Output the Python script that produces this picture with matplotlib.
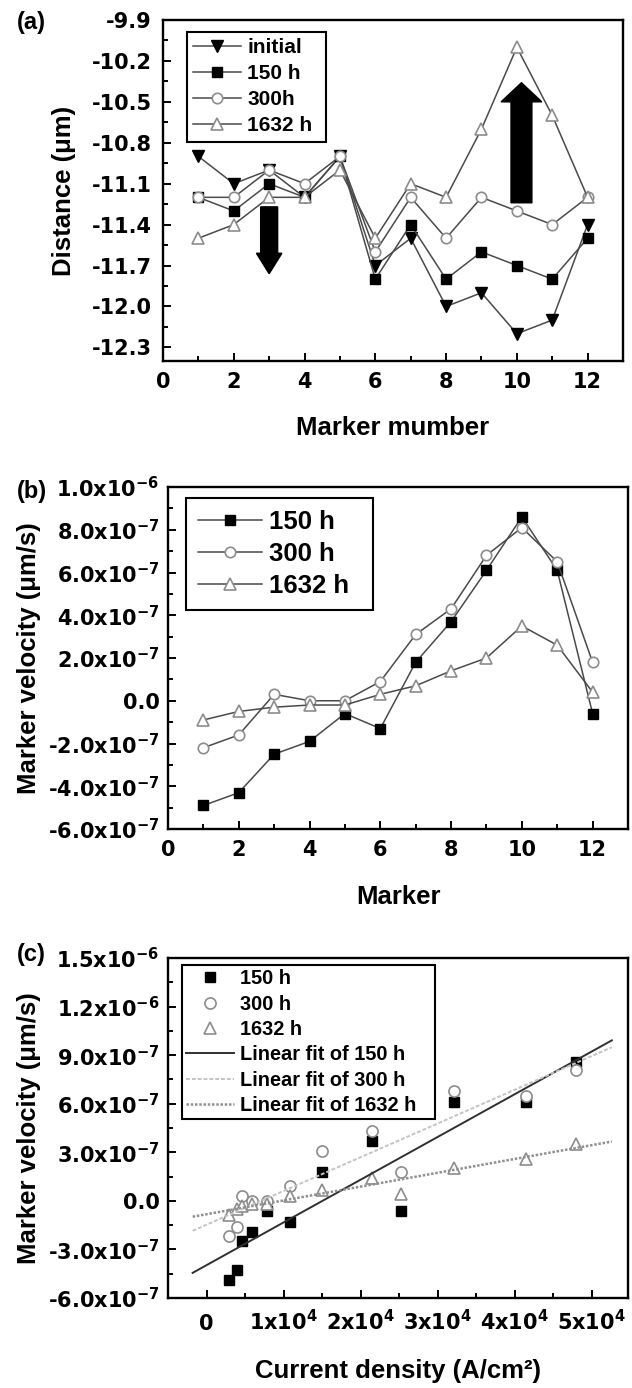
import numpy as np
import matplotlib
matplotlib.use('Agg')
import matplotlib.pyplot as plt
from matplotlib.ticker import MultipleLocator, FixedLocator, FuncFormatter

plt.rcParams['font.family'] = 'DejaVu Sans'
plt.rcParams['font.weight'] = 'bold'
plt.rcParams['axes.unicode_minus'] = False
plt.rcParams['mathtext.default'] = 'bf'

# ---- data ----
markers = np.arange(1, 13)

# (a) marker distance (um)
dist_initial = [-10.9, -11.1, -11.0, -11.2, -10.9, -11.7, -11.5, -12.0, -11.9, -12.2, -12.1, -11.4]
dist_150 = [-11.2, -11.3, -11.1, -11.2, -10.9, -11.8, -11.4, -11.8, -11.6, -11.7, -11.8, -11.5]
dist_300 = [-11.2, -11.2, -11.0, -11.1, -10.9, -11.6, -11.2, -11.5, -11.2, -11.3, -11.4, -11.2]
dist_1632 = [-11.5, -11.4, -11.2, -11.2, -11.0, -11.5, -11.1, -11.2, -10.7, -10.1, -10.6, -11.2]

# (b) marker velocity, in units of 1e-7 um/s
vel_150 = [-4.9, -4.3, -2.5, -1.9, -0.6, -1.3, 1.8, 3.7, 6.1, 8.6, 6.1, -0.6]
vel_300 = [-2.2, -1.6, 0.3, 0.0, 0.0, 0.9, 3.1, 4.3, 6.8, 8.1, 6.5, 1.8]
vel_1632 = [-0.9, -0.5, -0.3, -0.2, -0.2, 0.3, 0.7, 1.4, 2.0, 3.5, 2.6, 0.4]
vel_scale = 1e-7

# (c) current density at each marker (A/cm2)
current = [2900, 3900, 4600, 5900, 7800, 10800, 15000, 21500, 32100, 47900, 41500, 25300]

LINE = '#4a4a4a'
OPEN = '#8c8c8c'
label_font = {'family': 'Liberation Sans', 'weight': 'bold', 'size': 18.5}

W, H = 632, 1388
fig = plt.figure(figsize=(W / 100, H / 100), dpi=100)


def px_axes(left, top, right, bottom):
    return fig.add_axes([left / W, 1 - bottom / H, (right - left) / W, (bottom - top) / H])


def style(ax):
    for s in ax.spines.values():
        s.set_linewidth(1.7)
    ax.tick_params(which='both', direction='in', top=False, right=False,
                   width=1.4, labelsize=15, pad=8)
    ax.tick_params(which='major', length=6)
    ax.tick_params(which='minor', length=3.5)


def sci(v, pos):
    if abs(v) < 1e-15:
        return '0.0'
    e = int(np.floor(np.log10(abs(v)) + 1e-9))
    return f'{v / 10**e:.1f}x10$^{{{e}}}$'


def legend(ax, x0, top, width, size, **kw):
    leg = ax.legend(loc='upper left', bbox_to_anchor=(x0, top, width, 0), mode='expand',
                    borderaxespad=0,
                    prop={'family': 'Liberation Sans', 'weight': 'bold', 'size': size},
                    frameon=True, fancybox=False, edgecolor='black', framealpha=1,
                    numpoints=1, **kw)
    leg.get_frame().set_linewidth(1.5)
    return leg


# ---------- (a) ----------
ax = px_axes(163, 20, 623, 361)
style(ax)
ax.plot(markers, dist_initial, '-v', color=LINE, lw=1.1, mfc='black', mec='black', ms=8, label='initial')
ax.plot(markers, dist_150, '-s', color=LINE, lw=1.1, mfc='black', mec='black', ms=6.5, label='150 h')
ax.plot(markers, dist_300, '-o', color=LINE, lw=1.1, mfc='white', mec=OPEN, mew=1.2, ms=7.5, label='300h')
ax.plot(markers, dist_1632, '-^', color=LINE, lw=1.1, mfc='white', mec=OPEN, mew=1.2, ms=8, label='1632 h')
ax.arrow(3, -11.27, 0, -0.49, width=0.48, head_width=0.72, head_length=0.15,
         length_includes_head=True, color='black', zorder=5)
ax.arrow(10.13, -11.24, 0, 0.88, width=0.59, head_width=1.15, head_length=0.14,
         length_includes_head=True, color='black', zorder=5)
ax.set_xlim(0, 13)
ax.set_ylim(-12.4, -9.9)
ax.xaxis.set_major_locator(MultipleLocator(2))
ax.xaxis.set_minor_locator(MultipleLocator(1))
ax.yaxis.set_major_locator(FixedLocator(np.round(np.arange(-12.3, -9.85, 0.3), 1)))
ax.yaxis.set_minor_locator(FixedLocator(np.round(np.arange(-12.45, -9.85, 0.15), 2)))
ax.yaxis.set_major_formatter(FuncFormatter(lambda v, p: f'{v:.1f}'))
ax.set_xlabel('Marker mumber', fontdict=label_font)
ax.set_ylabel('Distance (\u03bcm)', fontdict=label_font)
ax.xaxis.set_label_coords(0.5, -0.16)
ax.yaxis.set_label_coords(-0.19, 0.5)
legend(ax, 0.052, 0.965, 0.302, 15, handlelength=2.3, handletextpad=0.3,
       labelspacing=0.34, borderpad=0.3)

# ---------- (b) ----------
ax = px_axes(168, 487, 628, 829)
style(ax)
ax.plot(markers, np.array(vel_150) * vel_scale, '-s', color=LINE, lw=1.1, mfc='black', mec='black', ms=6.5, label='150 h')
ax.plot(markers, np.array(vel_300) * vel_scale, '-o', color=LINE, lw=1.1, mfc='white', mec=OPEN, mew=1.2, ms=7.5, label='300 h')
ax.plot(markers, np.array(vel_1632) * vel_scale, '-^', color=LINE, lw=1.1, mfc='white', mec=OPEN, mew=1.2, ms=8, label='1632 h')
ax.set_xlim(0, 13)
ax.set_ylim(-6e-7, 1e-6)
ax.xaxis.set_major_locator(MultipleLocator(2))
ax.xaxis.set_minor_locator(MultipleLocator(1))
ax.yaxis.set_major_locator(FixedLocator(np.arange(-6, 11, 2) * 1e-7))
ax.yaxis.set_minor_locator(FixedLocator(np.arange(-6, 11, 1) * 1e-7))
ax.yaxis.set_major_formatter(FuncFormatter(sci))
ax.tick_params(axis='y', pad=6)
ax.set_xlabel('Marker', fontdict=label_font)
ax.set_ylabel('Marker velocity (\u03bcm/s)', fontdict=label_font)
ax.xaxis.set_label_coords(0.5, -0.165)
ax.yaxis.set_label_coords(-0.275, 0.5)
legend(ax, 0.039, 0.968, 0.4065, 18.5, handlelength=2.5, handletextpad=0.3,
       labelspacing=0.32, borderpad=0.45)

# ---------- (c) ----------
ax = px_axes(168, 958, 628, 1298)
style(ax)
ax.plot(current, np.array(vel_150) * vel_scale, 's', ls='none', mfc='black', mec='black', ms=7, label='150 h')
ax.plot(current, np.array(vel_300) * vel_scale, 'o', ls='none', mfc='white', mec=OPEN, mew=1.2, ms=8, label='300 h')
ax.plot(current, np.array(vel_1632) * vel_scale, '^', ls='none', mfc='white', mec=OPEN, mew=1.2, ms=8.5, label='1632 h')
x_fit = np.array([-1800, 52600])
fit_styles = [
    (vel_150, dict(color='#303030', lw=1.4, ls='-'), 'Linear fit of 150 h'),
    (vel_300, dict(color='#c4c4c4', lw=1.4, ls=(0, (2, 1))), 'Linear fit of 300 h'),
    (vel_1632, dict(color='#909090', lw=1.8, ls=(0, (1, 0.7))), 'Linear fit of 1632 h'),
]
for vals, kw, lab in fit_styles:
    p = np.polyfit(current, np.array(vals) * vel_scale, 1)
    ax.plot(x_fit, np.polyval(p, x_fit), label=lab, **kw)
ax.set_xlim(-5000, 54700)
ax.set_ylim(-6e-7, 1.5e-6)
ax.xaxis.set_major_locator(FixedLocator(np.arange(0, 50001, 10000)))
ax.xaxis.set_minor_locator(FixedLocator(np.arange(0, 54001, 5000)))
ax.xaxis.set_major_formatter(FuncFormatter(
    lambda v, p: '0' if v == 0 else f'{int(round(v / 1e4))}x10$^{{4}}$'))
ax.yaxis.set_major_locator(FixedLocator(np.arange(-6, 16, 3) * 1e-7))
ax.yaxis.set_minor_locator(FixedLocator(np.arange(-6, 16, 1.5) * 1e-7))
ax.yaxis.set_major_formatter(FuncFormatter(sci))
ax.tick_params(axis='y', pad=6)
ax.tick_params(axis='x', pad=23)
for lab in ax.get_xticklabels():
    lab.set_verticalalignment('baseline')
ax.set_xlabel('Current density (A/cm\u00b2)', fontdict=label_font)
ax.set_ylabel('Marker velocity (\u03bcm/s)', fontdict=label_font)
ax.xaxis.set_label_coords(0.5, -0.18)
ax.yaxis.set_label_coords(-0.275, 0.5)
legend(ax, 0.030, 0.979, 0.55, 14.4, handlelength=2.4, handletextpad=0.3,
       labelspacing=0.32, borderpad=0.2)

# panel letters
for txt, y in [('(a)', 23), ('(b)', 491), ('(c)', 955)]:
    fig.text(17 / W, 1 - y / H, txt, ha='left', va='center',
             family='Liberation Sans', weight='bold', size=17)

fig.savefig('out.png', dpi=100)
